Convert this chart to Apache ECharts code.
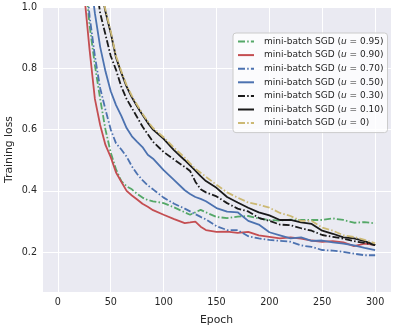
<!DOCTYPE html>
<html>
<head>
<meta charset="utf-8">
<script src="https://cdn.jsdelivr.net/npm/echarts@6/dist/echarts.min.js"></script>
<style>
  html, body { margin: 0; padding: 0; background: #fff; }
  #chart { width: 395px; height: 329px; }
</style>
</head>
<body>
<div id="chart"></div>
<script>
const epochs = [20, 25, 30, 35, 40, 45, 50, 55, 60, 65, 70, 75, 80, 85, 90, 100, 110, 120, 125, 130, 135, 140, 150, 160, 170, 180, 190, 200, 210, 220, 230, 240, 250, 260, 270, 280, 290, 300];

const loss095 = [1.40, 1.12, 0.94, 0.81, 0.70, 0.60, 0.525, 0.47, 0.432, 0.415, 0.405, 0.39, 0.378, 0.37, 0.366, 0.36, 0.346, 0.33, 0.322, 0.33, 0.338, 0.33, 0.315, 0.311, 0.316, 0.318, 0.31, 0.305, 0.303, 0.306, 0.305, 0.305, 0.305, 0.31, 0.305, 0.296, 0.298, 0.294];
const loss090 = [1.30, 1.04, 0.86, 0.70, 0.615, 0.55, 0.51, 0.46, 0.43, 0.40, 0.385, 0.372, 0.358, 0.348, 0.337, 0.322, 0.308, 0.295, 0.297, 0.30, 0.283, 0.272, 0.266, 0.267, 0.263, 0.266, 0.255, 0.25, 0.245, 0.248, 0.244, 0.238, 0.234, 0.236, 0.232, 0.22, 0.228, 0.224];
const loss070 = [1.45, 1.15, 0.97, 0.84, 0.735, 0.665, 0.60, 0.555, 0.535, 0.512, 0.48, 0.455, 0.435, 0.418, 0.405, 0.378, 0.358, 0.342, 0.333, 0.324, 0.315, 0.307, 0.285, 0.272, 0.272, 0.252, 0.245, 0.24, 0.237, 0.234, 0.222, 0.217, 0.207, 0.205, 0.201, 0.195, 0.19, 0.19];
const loss050 = [1.55, 1.28, 1.12, 0.98, 0.87, 0.79, 0.725, 0.68, 0.645, 0.605, 0.578, 0.56, 0.543, 0.518, 0.505, 0.468, 0.435, 0.402, 0.39, 0.38, 0.374, 0.366, 0.344, 0.332, 0.33, 0.302, 0.29, 0.265, 0.255, 0.245, 0.248, 0.237, 0.238, 0.232, 0.228, 0.222, 0.214, 0.207];
const loss030 = [1.6, 1.38, 1.2, 1.1, 0.98, 0.91, 0.84, 0.795, 0.74, 0.70, 0.67, 0.64, 0.61, 0.585, 0.56, 0.527, 0.502, 0.478, 0.465, 0.43, 0.405, 0.395, 0.382, 0.36, 0.342, 0.333, 0.312, 0.302, 0.29, 0.288, 0.278, 0.27, 0.256, 0.25, 0.244, 0.236, 0.23, 0.223];
const loss010 = [1.75, 1.5, 1.3, 1.17, 1.07, 0.985, 0.915, 0.835, 0.785, 0.74, 0.705, 0.675, 0.648, 0.622, 0.60, 0.57, 0.532, 0.50, 0.483, 0.466, 0.448, 0.432, 0.41, 0.38, 0.362, 0.345, 0.33, 0.32, 0.305, 0.305, 0.297, 0.292, 0.27, 0.26, 0.248, 0.245, 0.236, 0.223];
const loss000 = [1.76, 1.52, 1.31, 1.18, 1.08, 0.99, 0.92, 0.84, 0.79, 0.745, 0.71, 0.68, 0.652, 0.627, 0.605, 0.575, 0.54, 0.508, 0.49, 0.472, 0.459, 0.446, 0.42, 0.395, 0.378, 0.362, 0.355, 0.345, 0.328, 0.318, 0.302, 0.302, 0.28, 0.27, 0.255, 0.25, 0.24, 0.229];

const momentum = ['0.95', '0.90', '0.70', '0.50', '0.30', '0.10', '0'];
const lossRuns = [loss095, loss090, loss070, loss050, loss030, loss010, loss000];
const colors = ['#55A868', '#C44E52', '#4C72B0', '#4C72B0', '#1a1a1a', '#1a1a1a', '#CCB974'];
const dashDot = [true, false, true, false, true, false, true];

const dashPattern = [7, 2.2, 1.5, 2.2];
const textColor = '#262626';
const font = 'DejaVu Sans';

const chart = echarts.init(document.getElementById('chart'), null, { renderer: 'canvas' });

const series = momentum.map((u, k) => ({
    name: u,
    type: 'line',
    symbol: 'none',
    clip: true,
    data: epochs.map((e, i) => [e, lossRuns[k][i]]),
    itemStyle: { color: colors[k] },
    lineStyle: {
        color: colors[k],
        width: 1.8,
        type: dashDot[k] ? dashPattern : 'solid'
    }
}));

chart.setOption({
    animation: false,
    textStyle: { fontFamily: font },
    grid: {
        left: 42, right: 4, top: 7, bottom: 37,
        outerBoundsMode: 'none',
        containLabel: false,
        show: true,
        backgroundColor: '#EAEAF2',
        borderWidth: 0
    },
    xAxis: {
        type: 'value',
        min: -15,
        max: 315,
        name: 'Epoch',
        nameLocation: 'middle',
        nameGap: 23,
        nameMoveOverlap: false,
        nameTextStyle: { fontSize: 10.8, color: textColor, fontFamily: font },
        axisLine: { show: false },
        axisTick: { show: false },
        axisLabel: {
            margin: 5,
            fontSize: 9.6,
            color: textColor,
            fontFamily: font,
            formatter: v => (v % 50 === 0 ? String(v) : '')
        },
        splitLine: { lineStyle: { color: '#ffffff', width: 1 } }
    },
    yAxis: {
        type: 'value',
        min: 0.07,
        max: 1.0,
        name: 'Training loss',
        nameLocation: 'middle',
        nameGap: 27,
        nameMoveOverlap: false,
        nameTextStyle: { fontSize: 10.8, color: textColor, fontFamily: font },
        axisLine: { show: false },
        axisTick: { show: false },
        axisLabel: {
            margin: 5,
            fontSize: 9.6,
            color: textColor,
            fontFamily: font,
            formatter: v => (Math.abs(v * 10 - Math.round(v * 10)) < 1e-6 ? v.toFixed(1) : '')
        },
        splitLine: { lineStyle: { color: '#ffffff', width: 1 } }
    },
    legend: {
        orient: 'vertical',
        left: 233,
        top: 33,
        padding: [3, 4, 4, 4],
        itemWidth: 16,
        itemHeight: 9,
        itemGap: 2.6,
        backgroundColor: 'rgba(255,255,255,0.8)',
        borderColor: '#cccccc',
        borderWidth: 1,
        borderRadius: 3,
        itemStyle: { opacity: 0 },
        data: momentum,
        formatter: name => 'mini-batch SGD ({i|u} = ' + name + ')',
        textStyle: {
            fontSize: 9,
            lineHeight: 11,
            color: textColor,
            fontFamily: font,
            padding: [0, 0, 0, 5],
            rich: {
                i: { fontSize: 9, lineHeight: 11, fontStyle: 'italic', color: textColor, fontFamily: font }
            }
        }
    },
    series: series
});
</script>
</body>
</html>
